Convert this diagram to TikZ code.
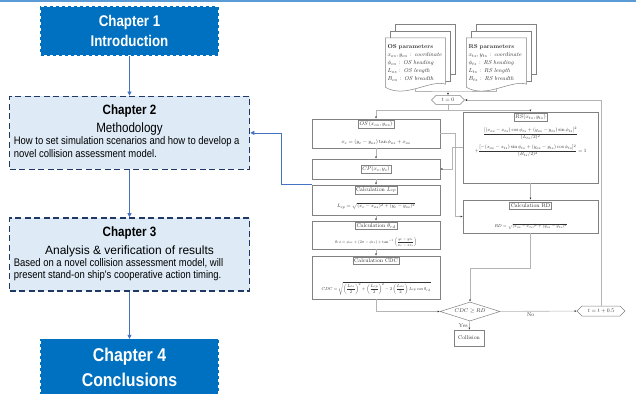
\documentclass[tikz,border=0pt]{standalone}
\usepackage{amsmath}
\usepackage{graphicx}
\usepackage{fontspec}
\newfontfamily\narrowsans[FakeStretch=0.86]{Liberation Sans}
\newfontfamily\plainsans{Liberation Sans}
\usetikzlibrary{shapes.geometric, shapes.symbols, arrows.meta, positioning, backgrounds, calc}

\definecolor{chapblue}{RGB}{0,112,192}
\definecolor{paleblue}{RGB}{222,235,247}
\definecolor{navy}{RGB}{32,56,100}
\definecolor{linkblue}{RGB}{68,114,196}
\definecolor{topline}{RGB}{91,155,213}
\definecolor{flowgray}{RGB}{180,180,180}
\definecolor{boxgray}{RGB}{130,130,130}
\definecolor{inkgray}{RGB}{50,50,50}

% flowchart text is set at footnote size and shrunk
\newcommand{\shrink}[1]{\scalebox{0.68}{#1}}

\begin{document}
\begin{tikzpicture}[
    x=1pt, y=-1pt,
    >={Triangle[length=4pt, width=4pt]},
    chapter/.style={
        rectangle,
        draw=chapblue,
        fill=chapblue,
        dashed,
        line width=1.2pt,
        text=white,
        align=center,
        minimum width=177pt
    },
    detail/.style={
        rectangle,
        draw=navy,
        fill=paleblue,
        line width=1.6pt,
        dash pattern=on 6pt off 3.5pt,
        minimum width=240pt,
        minimum height=73pt
    },
    chtitle/.style={
        inner sep=0pt,
        align=center,
        font=\narrowsans\fontsize{13.5}{18}\selectfont
    },
    chbody/.style={
        inner sep=0pt,
        align=left,
        font=\narrowsans\fontsize{11}{12.5}\selectfont
    },
    link/.style={->, draw=linkblue, line width=0.8pt},
    stepbox/.style={
        rectangle,
        draw=boxgray,
        fill=white,
        line width=0.5pt,
        minimum width=128pt
    },
    tag/.style={
        rectangle,
        draw=boxgray,
        line width=0.4pt,
        inner sep=1.3pt,
        text=inkgray,
        font=\footnotesize
    },
    formula/.style={inner sep=0pt, text=inkgray, font=\footnotesize},
    paper/.style={
        rectangle,
        text width=56pt,
        align=left,
        inner sep=2pt,
        minimum height=50pt,
        text=inkgray,
        font=\footnotesize
    },
    page/.style={draw=boxgray, fill=white, line width=0.5pt},
    hexa/.style={
        signal,
        signal to=east and west,
        draw=boxgray,
        fill=white,
        line width=0.5pt,
        inner sep=1pt,
        text=inkgray,
        font=\footnotesize
    },
    decision/.style={
        diamond,
        aspect=3,
        draw=boxgray,
        fill=white,
        line width=0.5pt,
        inner sep=0.5pt,
        minimum width=60pt,
        minimum height=19pt,
        text=inkgray,
        font=\footnotesize
    },
    flowline/.style={draw=flowgray, line width=0.6pt},
    flow/.style={flowline, -{Latex[length=2.2pt, width=2pt, color=inkgray]}},
    lbl/.style={inner sep=1.5pt, text=inkgray, font=\footnotesize}
]
\useasboundingbox (0,0) rectangle (636,393);
\draw[topline, line width=1.5pt] (0,1) -- (636,1);

% Left column: thesis chapters
\node[chapter, minimum height=48pt, font=\narrowsans\bfseries\fontsize{15.5}{20.5}\selectfont] (ch1) at (129.5,31) {Chapter 1\\Introduction};
\node[detail, below=40pt of ch1] (ch2) {};
\node[chtitle, below=9pt of ch2.north] (ch2title) {\bfseries Chapter 2\\Methodology};
\node[chbody, anchor=north west] (ch2text) at ($(ch2.north west)+(5,41)$) {How to set simulation scenarios and how to develop a\\novel collision assessment model.};

\node[detail, below=47pt of ch2] (ch3) {};
\node[chtitle, below=9pt of ch3.north] (ch3title) {\bfseries Chapter 3\\{\plainsans\fontsize{12}{18}\selectfont Analysis \& verification of results}};
\node[chbody, anchor=north west] (ch3text) at ($(ch3.north west)+(5,41)$) {Based on a novel collision assessment model, will\\present stand-on ship's cooperative action timing.};

\node[chapter, below=47pt of ch3, minimum height=55pt, font=\narrowsans\bfseries\fontsize{18.5}{25}\selectfont] (ch4) {Chapter 4\\Conclusions};

\draw[link] (ch1) -- (ch2);
\draw[link] (ch2) -- (ch3);
\draw[link] (ch3) -- (ch4);

% Right column: collision assessment flowchart
\node[paper] (osdoc) at (415.5,63) {\scalebox{0.72}{\renewcommand{\arraystretch}{1.15}\begin{tabular}{@{}l@{}}\textbf{OS parameters}\\$x_{os},y_{os}$ : \textit{coordinate}\\$\phi_{os}$ : \textit{OS heading}\\$L_{os}$ : \textit{OS length}\\$B_{os}$ : \textit{OS breadth}\end{tabular}}};
\node[paper] (rsdoc) at (496.5,63) {\scalebox{0.72}{\renewcommand{\arraystretch}{1.15}\begin{tabular}{@{}l@{}}\textbf{RS parameters}\\$x_{ts},y_{ts}$ : \textit{coordinate}\\$\phi_{ts}$ : \textit{RS heading}\\$L_{ts}$ : \textit{RS length}\\$B_{ts}$ : \textit{RS breadth}\end{tabular}}};

\begin{scope}[on background layer]
    \foreach \doc in {osdoc, rsdoc} {
        \foreach \d in {10,5}
            \draw[page] ($(\doc.north west)+(\d,-1.4*\d)$) rectangle ($(\doc.south east)+(\d,-1.4*\d)$);
        \draw[page] (\doc.north west) -- (\doc.north east) -- ($(\doc.south east)+(0,-4)$)
            .. controls +(-16,-5) and +(20,12) .. ($(\doc.south west)+(0,-1)$) -- cycle;
    }
\end{scope}

\node[hexa, minimum width=33pt, minimum height=9pt] (t0) at (448,100) {\shrink{$t=0$}};
\node[hexa, minimum width=48pt, minimum height=10pt] (tinc) at (601,311) {\shrink{$t=t+0.5$}};

\node[stepbox, minimum height=29pt] (osbox) at (376,133.5) {};
\node[tag, below=1.5pt of osbox.north] (ostag) {\shrink{$OS\,(x_{os},y_{os})$}};
\node[formula, above=3pt of osbox.south] (osform) {\resizebox{69pt}{!}{$x_c=(y_c-y_{os})\tan\phi_{os}+x_{os}$}};

\node[stepbox, minimum height=20pt] (cpbox) at (376,169) {};
\node[tag] (cptag) at (cpbox) {\shrink{$CP(x_c,y_c)$}};

\node[stepbox, minimum height=30pt] (lcpbox) at (376,200) {};
\node[tag, below=1pt of lcpbox.north] (lcptag) {\shrink{Calculation $L_{cp}$}};
\node[formula, above=6pt of lcpbox.south] (lcpform) {\resizebox{78pt}{!}{$L_{cp}=\sqrt{(x_c-x_{os})^2+(y_c-y_{os})^2}$}};

\node[stepbox, minimum height=28pt] (thbox) at (376,235) {};
\node[tag, below=1pt of thbox.north] (thtag) {\shrink{Calculation $\theta_{rd}$}};
\node[formula, above=2pt of thbox.south] (thform) {\resizebox{82pt}{!}{$\theta_{rd}=\phi_{os}+(2\pi-\phi_{ts})+\tan^{-1}\left(\dfrac{y_c-y_{ts}}{x_c-x_{ts}}\right)$}};

\node[stepbox, minimum height=43pt] (cdcbox) at (376,277.5) {};
\node[tag, below=1.5pt of cdcbox.north] (cdctag) {\shrink{Calculation CDC}};
\node[formula, above=4pt of cdcbox.south] (cdcform) {\resizebox{109pt}{!}{$CDC=\sqrt{\left(\dfrac{L_{os}}{2}\right)^{2}+\left(\dfrac{L_{cp}}{2}\right)^{2}-2\left(\dfrac{L_{os}}{2}\right)L_{cp}\cos\theta_{rd}}$}};

\node[stepbox, minimum width=135pt, minimum height=71pt] (rsbox) at (530.5,147.5) {};
\node[tag, below=1pt of rsbox.north] (rstag) {\shrink{$RS(x_{ts},y_{ts})$}};
\node[formula, below=6pt of rstag] (rsform) {\resizebox{112pt}{!}{$\begin{gathered}\dfrac{[(x_{os}-x_{ts})\cos\phi_{ts}+(y_{os}-y_{ts})\sin\phi_{ts}]^2}{(L_{ts}/2)^2}\\[4pt]+\dfrac{[-(x_{os}-x_{ts})\sin\phi_{ts}+(y_{os}-y_{ts})\cos\phi_{ts}]^2}{(B_{ts}/2)^2}=1\end{gathered}$}};

\node[stepbox, minimum width=135pt, minimum height=33pt] (rdbox) at (530.5,216.5) {};
\node[tag, below=2.5pt of rdbox.north] (rdtag) {\shrink{Calculation RD}};
\node[formula, above=4pt of rdbox.south] (rdform) {\resizebox{72pt}{!}{$RD=\sqrt{(x_{os}-x_{ts})^2+(y_{os}-y_{ts})^2}$}};

\node[decision] (cdcdec) at (470,311.5) {\shrink{$CDC\geq RD$}};
\node[stepbox, minimum width=30pt, minimum height=16pt, text=inkgray, font=\footnotesize] (collision) at (469,338) {\shrink{Collision}};

\coordinate (merge) at (448,91);
\coordinate (split) at (448,110);
\draw[flowline] (osdoc.south) |- (merge) -| (rsdoc.south);
\draw[flow] (merge) -- (t0);
\draw[flowline] (t0.south) -- (split);
\draw[flow] (split) -| (osbox.north);
\draw[flow] (split) -| (rsbox.north);
\draw[flow] (tinc.north) |- (t0.east);

\foreach \a/\b in {osbox/cpbox, cpbox/lcpbox, lcpbox/thbox, thbox/cdcbox, rsbox/rdbox}
    \draw[flow] (\a) -- (\b);

\draw[flow] (osbox.east) -- ++(15,0) |- (rdbox.west);
\draw[flow] (rsbox.west) -- ++(-10,0) |- (cpbox.east);
\draw[flow] (rdbox.south) -- ++(0,35) -| (cdcdec.north);
\draw[flow] (cdcbox.south) |- (cdcdec.west);
\draw[flow] (cdcdec) -- node[lbl, below, pos=0.4] {\shrink{No}} (tinc);
\draw[flow] (cdcdec) -- node[lbl, left] {\shrink{Yes}} (collision);

% Feedback into the methodology chapter
\draw[link] (lcpbox.north west) -- ++(-30,0) |- (ch2.east);

\end{tikzpicture}
\end{document}
